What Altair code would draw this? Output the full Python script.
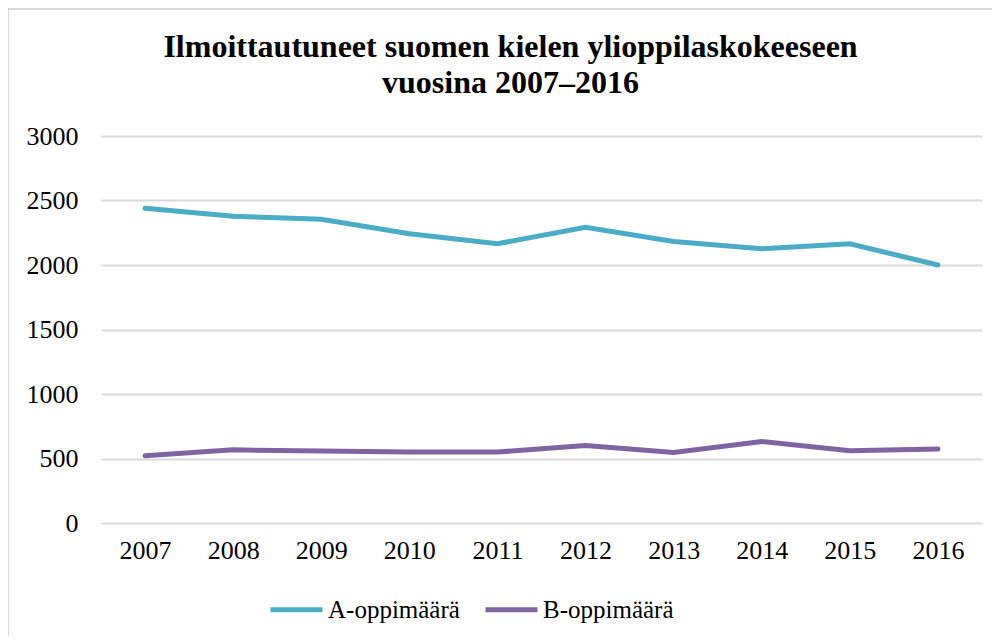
import altair as alt
import pandas as pd

years = ["2007", "2008", "2009", "2010", "2011", "2012", "2013", "2014", "2015", "2016"]
a_values = [2440, 2378, 2355, 2242, 2165, 2293, 2182, 2126, 2164, 2000]
b_values = [521, 567, 558, 550, 550, 600, 547, 632, 560, 573]
series = ["A-oppimäärä", "B-oppimäärä"]
colors = ["#4BACC6", "#8064A2"]

rows = []
for y, v in zip(years, a_values):
    rows.append({"vuosi": y, "määrä": v, "sarja": series[0]})
for y, v in zip(years, b_values):
    rows.append({"vuosi": y, "määrä": v, "sarja": series[1]})
df = pd.DataFrame(rows)

FONT = "Liberation Serif"

one = pd.DataFrame({"d": [0]})
frame_left = alt.Chart(one).mark_rule(stroke="#d9d9d9", strokeWidth=2).encode(
    x=alt.value(-93), y=alt.value(-128), y2=alt.value(520)
)
frame_top = alt.Chart(one).mark_rule(stroke="#d9d9d9", strokeWidth=2).encode(
    x=alt.value(-94), x2=alt.value(900), y=alt.value(-127)
)

lines = alt.Chart(df).mark_line(strokeWidth=5, strokeCap="round").encode(
    x=alt.X("vuosi:N", scale=alt.Scale(padding=0.5), sort=years,
            axis=alt.Axis(title=None, labelAngle=0, domain=False, ticks=False,
                          labelFontSize=26, labelFont=FONT, labelColor="black",
                          labelPadding=14, grid=False)),
    y=alt.Y("määrä:Q", scale=alt.Scale(domain=[0, 3000]),
            axis=alt.Axis(title=None, values=[0, 500, 1000, 1500, 2000, 2500, 3000],
                          format="d", domain=False, ticks=False, labelFontSize=26,
                          labelFont=FONT, labelColor="black", labelPadding=23,
                          gridColor="#d9d9d9", gridWidth=2)),
    color=alt.Color("sarja:N", scale=alt.Scale(domain=series, range=colors),
                    legend=alt.Legend(title=None, orient="none", direction="horizontal",
                                      legendX=167, legendY=445, padding=0,
                                      symbolType="stroke", symbolSize=2700,
                                      symbolStrokeWidth=5, labelFontSize=25,
                                      labelFont=FONT, labelColor="black",
                                      labelOffset=3, columnPadding=15)),
    detail="sarja:N",
)

chart = alt.layer(frame_left, frame_top, lines).properties(
    width=881,
    height=387,
    title=alt.Title(
        text=["Ilmoittautuneet suomen kielen ylioppilaskokeeseen", "vuosina 2007–2016"],
        font=FONT, fontSize=32, fontWeight="bold", color="black",
        anchor="middle", dx=-31, offset=-93, lineHeight=36,
    ),
    autosize=alt.AutoSizeParams(type="none"),
    padding={"left": 93, "top": 128, "right": 10, "bottom": 113},
).configure_view(stroke=None)

chart.save("out.html", embed_options={"renderer": "svg", "actions": False})
